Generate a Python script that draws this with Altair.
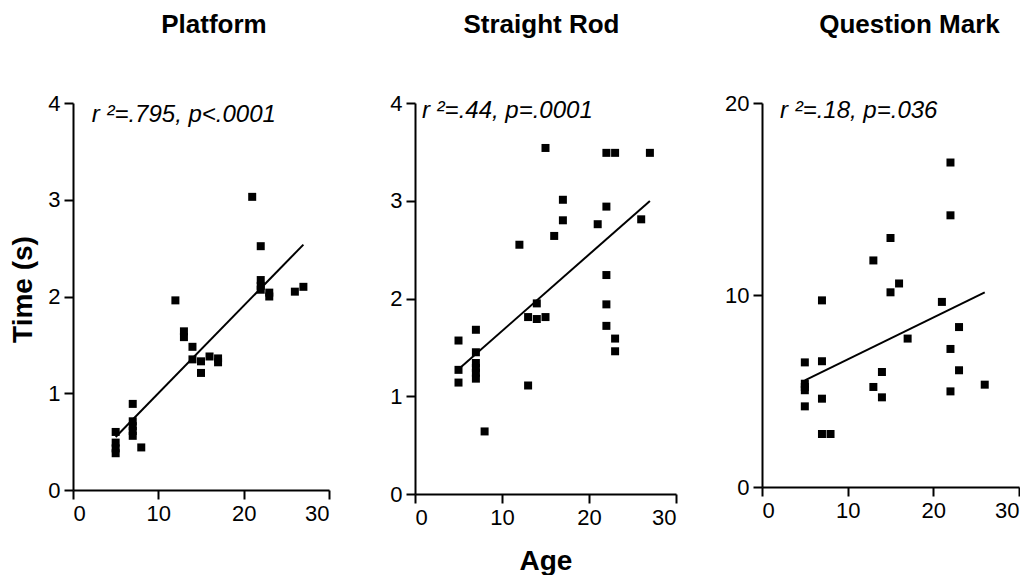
import altair as alt
import pandas as pd

FONT = "Liberation Sans"

# Panel 1: Platform
age1 = [21, 22, 22, 22, 22, 23, 23, 26, 27, 12, 13, 13, 14, 14, 15, 15, 16, 17, 17,
        7, 7, 7, 7, 7, 5, 5, 5, 5, 8]
time1 = [3.03, 2.52, 2.17, 2.11, 2.07, 2.04, 2.00, 2.05, 2.10, 1.96, 1.64, 1.58, 1.48,
         1.35, 1.33, 1.21, 1.38, 1.36, 1.32, 0.89, 0.71, 0.66, 0.61, 0.56, 0.60, 0.49,
         0.43, 0.38, 0.44]

# Panel 2: Straight Rod
age2 = [15, 22, 23, 27, 17, 22, 17, 21, 26, 16, 12, 22, 14, 13, 14, 15, 22, 22, 23, 23,
        7, 5, 7, 5, 7, 7, 7, 7, 5, 13, 8]
time2 = [3.54, 3.49, 3.49, 3.49, 3.01, 2.94, 2.80, 2.76, 2.81, 2.64, 2.55, 2.24, 1.95,
         1.81, 1.79, 1.81, 1.94, 1.72, 1.59, 1.46, 1.68, 1.57, 1.45, 1.27, 1.34, 1.29,
         1.24, 1.18, 1.14, 1.11, 0.64]

# Panel 3: Question Mark
age3 = [22, 22, 15, 13, 16, 15, 7, 21, 23, 17, 22, 5, 7, 14, 23, 5, 5, 5, 13, 26, 22,
        14, 7, 5, 7, 8]
time3 = [16.9, 14.15, 12.97, 11.8, 10.6, 10.14, 9.72, 9.64, 8.33, 7.73, 7.19, 6.49, 6.55,
         5.99, 6.08, 5.38, 5.21, 5.04, 5.21, 5.33, 4.98, 4.67, 4.60, 4.20, 2.76, 2.76]

titles = ["Platform", "Straight Rod", "Question Mark"]
stats = ["r ²=.795, p<.0001", "r ²=.44, p=.0001", "r ²=.18, p=.036"]
stat_pos = [(2.2, 3.88), (0.8, 3.92), (2.1, 19.6)]
y_domains = [[0, 4], [0, 4], [0, 20]]
y_ticks = [[0, 1, 2, 3, 4], [0, 1, 2, 3, 4], [0, 10, 20]]
x_ticks = [0, 10, 20, 30]


def panel(i, ages, times, width, height, title_dx, ytitle=False, xtitle=False):
    df = pd.DataFrame({"age": ages, "time": times})
    yargs = dict(values=y_ticks[i], title=None, format="d")
    if ytitle:
        yargs = dict(values=y_ticks[i], format="d", title="Time (s)", titleX=-50,
                     titleY=186, titleBaseline="middle", titleAlign="center",
                     titleAngle=-90)
    xargs = dict(values=x_ticks, title=None, format="d")
    if xtitle:
        xargs = dict(values=x_ticks, format="d", title="Age", titleY=67,
                     titleBaseline="middle")
    xenc = alt.X("age:Q", scale=alt.Scale(domain=[0, 30], nice=False), axis=alt.Axis(**xargs))
    yenc = alt.Y("time:Q", scale=alt.Scale(domain=y_domains[i], nice=False),
                 axis=alt.Axis(**yargs))
    base = alt.Chart(df)
    pts = base.mark_point(shape="square", filled=True, size=64, color="black",
                          opacity=1).encode(x=xenc, y=yenc)
    reg = base.transform_regression("age", "time").mark_line(
        color="black", strokeWidth=2).encode(x="age:Q", y="time:Q")
    sdf = pd.DataFrame({"age": [stat_pos[i][0]], "time": [stat_pos[i][1]],
                        "label": [stats[i]]})
    txt = alt.Chart(sdf).mark_text(align="left", baseline="middle", font=FONT,
                                   fontSize=24, fontStyle="italic", color="black").encode(
        x="age:Q", y="time:Q", text="label:N")
    return alt.layer(pts, reg, txt).properties(
        width=width, height=height,
        title=alt.TitleParams(titles[i], fontSize=26, fontWeight="bold", font=FONT,
                              color="black", anchor="middle", baseline="alphabetic",
                              offset=33, dx=title_dx))


p1 = panel(0, age1, time1, 256, 387, 13, ytitle=True)
p2 = panel(1, age2, time2, 261, 391, -4, xtitle=True)
p3 = panel(2, age3, time3, 257, 384, 19)

chart = alt.hconcat(p1, p2, p3, spacing=86, bounds="flush").properties(
    padding={"left": 9, "top": 12, "right": 0, "bottom": 0}
).configure_view(strokeWidth=0).configure_axis(
    domainColor="black", domainWidth=2, tickColor="black", tickWidth=2, tickSize=9,
    labelFont=FONT, labelFontSize=22, labelColor="black", labelPadding=4, grid=False,
    titleFont=FONT, titleFontSize=28, titleFontWeight="bold", titleColor="black"
)

chart.save("out.html", embed_options={"renderer": "svg", "actions": False})
